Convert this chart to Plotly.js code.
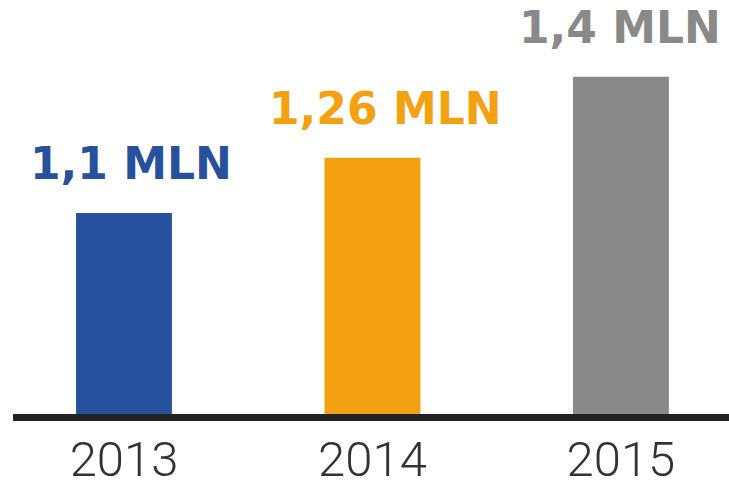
<!DOCTYPE html>
<html>
<head>
<meta charset="utf-8">
<script src="https://cdn.plot.ly/plotly-3.0.1.min.js"></script>
<style>html,body{margin:0;padding:0;background:#fff;}#chart{width:729px;height:483px;}</style>
</head>
<body>
<div id="chart"></div>
<script>
// Data
const years = ['2013', '2014', '2015'];
const valueLabels = ['1,1 MLN', '1,26 MLN', '1,4 MLN'];
// drawn bar heights (relative, 2015 = 100)
const barHeights = [59.6, 76.0, 100];
const barColors = ['#27509d', '#f4a111', '#898989'];

const trace = {
  type: 'bar',
  x: years,
  y: barHeights,
  marker: {color: barColors, line: {width: 0}},
  width: 0.386,
  hoverinfo: 'skip'
};

// small horizontal nudges of the value labels (styling)
const nudge = [7, 13, -1];
const annotations = years.map((yr, i) => ({
  x: i, y: barHeights[i], xref: 'x', yref: 'y',
  text: valueLabels[i], showarrow: false,
  xanchor: 'center', yanchor: 'bottom', yshift: 22, xshift: nudge[i],
  font: {family: 'DejaVu Sans', size: 44, color: barColors[i], weight: 'bold'}
}));

const layout = {
  width: 729, height: 483,
  margin: {l: 13, r: 0, t: 0, b: 69},
  paper_bgcolor: '#fff', plot_bgcolor: '#fff',
  showlegend: false,
  xaxis: {
    type: 'category',
    range: [-0.4467, 2.435],
    showline: true, linecolor: '#222', linewidth: 7,
    showgrid: false, zeroline: false, ticks: '',
    tickfont: {family: 'Roboto', size: 49, color: '#333', weight: 300},
    ticklabelstandoff: -4,
    fixedrange: true
  },
  yaxis: {
    range: [0, 122.8],
    visible: false, showgrid: false, zeroline: false, fixedrange: true
  },
  annotations: annotations
};

Plotly.newPlot('chart', [trace], layout, {displayModeBar: false, staticPlot: true});
</script>
</body>
</html>
